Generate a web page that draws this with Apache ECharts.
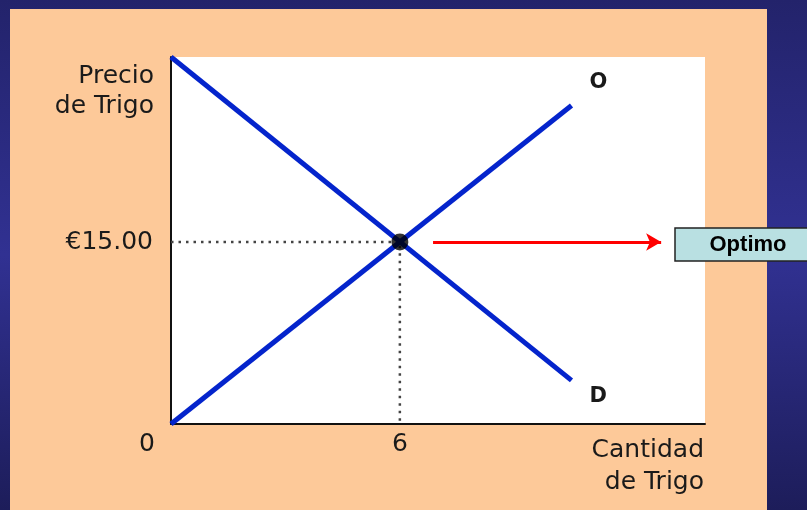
<!DOCTYPE html>
<html>
<head>
<meta charset="utf-8">
<style>
  html, body { margin: 0; padding: 0; }
  #chart { width: 807px; height: 510px; }
</style>
<script src="https://cdn.jsdelivr.net/npm/echarts@6/dist/echarts.min.js"></script>
</head>
<body>
<div id="chart"></div>
<script>
  // cantidad de trigo (x) y precios de las dos curvas
  const cantidad = [0, 10.5];
  const precioOferta = [0, 26.25];
  const precioDemanda = [30.25, 3.6];
  // punto de equilibrio
  const eqCantidad = 6;
  const eqPrecio = 15;
  // flecha roja hacia la caja "Optimo"
  const flecha = [6.87, 12.85];
  // etiquetas de los ejes
  const xTicks = [0, 6];
  const yTicks = [15];

  const textColor = '#1a1a1a';
  const font = 'DejaVu Sans';

  const chart = echarts.init(document.getElementById('chart'), null, {renderer: 'canvas'});

  const oferta = cantidad.map((q, i) => [q, precioOferta[i]]);
  const demanda = cantidad.map((q, i) => [q, precioDemanda[i]]);

  chart.setOption({
    animation: false,
    backgroundColor: {
      type: 'linear', x: 0, y: 0, x2: 0, y2: 1,
      colorStops: [
        {offset: 0, color: '#23236b'},
        {offset: 0.5, color: '#313192'},
        {offset: 1, color: '#1d1d5a'}
      ]
    },
    graphic: [
      {
        type: 'rect', z: -10, silent: true,
        shape: {x: 10, y: 9, width: 757, height: 510},
        style: {fill: '#fdc999'}
      },
      {
        type: 'text', silent: true,
        x: 154, y: 61,
        style: {
          text: 'Precio\nde Trigo', align: 'right', verticalAlign: 'top',
          fontFamily: font, fontSize: 25, lineHeight: 30, fill: textColor
        }
      },
      {
        type: 'text', silent: true,
        x: 704, y: 434,
        style: {
          text: 'Cantidad\nde Trigo', align: 'right', verticalAlign: 'top',
          fontFamily: font, fontSize: 25, lineHeight: 32, fill: textColor
        }
      },
      {
        type: 'rect', silent: true,
        shape: {x: 675, y: 228, width: 140, height: 33},
        style: {fill: '#b9e0e2', stroke: '#222', lineWidth: 1.5}
      },
      {
        type: 'text', silent: true,
        x: 748, y: 245,
        style: {
          text: 'Optimo', align: 'center', verticalAlign: 'middle',
          fontFamily: 'Arial, "Liberation Sans", sans-serif', fontWeight: 'bold', fontSize: 22,
          fill: '#000'
        }
      }
    ],
    grid: {
      left: 171, right: 102, top: 57, bottom: 86,
      show: true, backgroundColor: '#fff', borderWidth: 0
    },
    xAxis: {
      type: 'value', min: 0, max: 14,
      splitLine: {show: false},
      axisTick: {show: false},
      axisLine: {onZero: false, lineStyle: {color: '#111', width: 2}},
      axisLabel: {
        customValues: xTicks,
        margin: 8,
        color: textColor, fontFamily: font, fontSize: 25,
        formatter: v => v === 0 ? '{z|0}' : String(v),
        rich: {z: {fontFamily: font, fontSize: 25, color: textColor, padding: [0, 48, 0, 0]}}
      }
    },
    yAxis: {
      type: 'value', min: 0, max: 30.25,
      splitLine: {show: false},
      axisTick: {show: false},
      axisLine: {onZero: false, lineStyle: {color: '#111', width: 2}},
      axisLabel: {
        customValues: yTicks,
        margin: 18,
        color: textColor, fontFamily: font, fontSize: 25,
        formatter: v => '€' + v.toFixed(2)
      }
    },
    series: [
      {
        name: 'guia',
        type: 'line',
        data: [[0, eqPrecio], [eqCantidad, eqPrecio], [eqCantidad, 0]],
        showSymbol: false,
        lineStyle: {color: '#444', width: 2.5, type: [2.5, 5]},
        z: 2
      },
      {
        name: 'Oferta',
        type: 'line',
        data: oferta,
        showSymbol: false,
        lineStyle: {color: '#0424cc', width: 5},
        endLabel: {
          show: true, formatter: 'O', offset: [10, -23],
          color: textColor, fontFamily: font, fontSize: 21, fontWeight: 'bold'
        },
        z: 3
      },
      {
        name: 'Demanda',
        type: 'line',
        data: demanda,
        showSymbol: false,
        lineStyle: {color: '#0424cc', width: 5},
        endLabel: {
          show: true, formatter: 'D', offset: [10, 16],
          color: textColor, fontFamily: font, fontSize: 21, fontWeight: 'bold'
        },
        z: 3
      },
      {
        name: 'Equilibrio',
        type: 'scatter',
        data: [[eqCantidad, eqPrecio]],
        symbolSize: 17,
        itemStyle: {color: '#000'},
        z: 10,
        markLine: {
          silent: true,
          symbol: ['none', 'arrow'],
          symbolSize: [13, 15],
          label: {show: false},
          lineStyle: {color: '#ff0000', width: 3, type: 'solid'},
          data: [[{coord: [flecha[0], eqPrecio]}, {coord: [flecha[1], eqPrecio]}]]
        }
      }
    ]
  });
</script>
</body>
</html>
